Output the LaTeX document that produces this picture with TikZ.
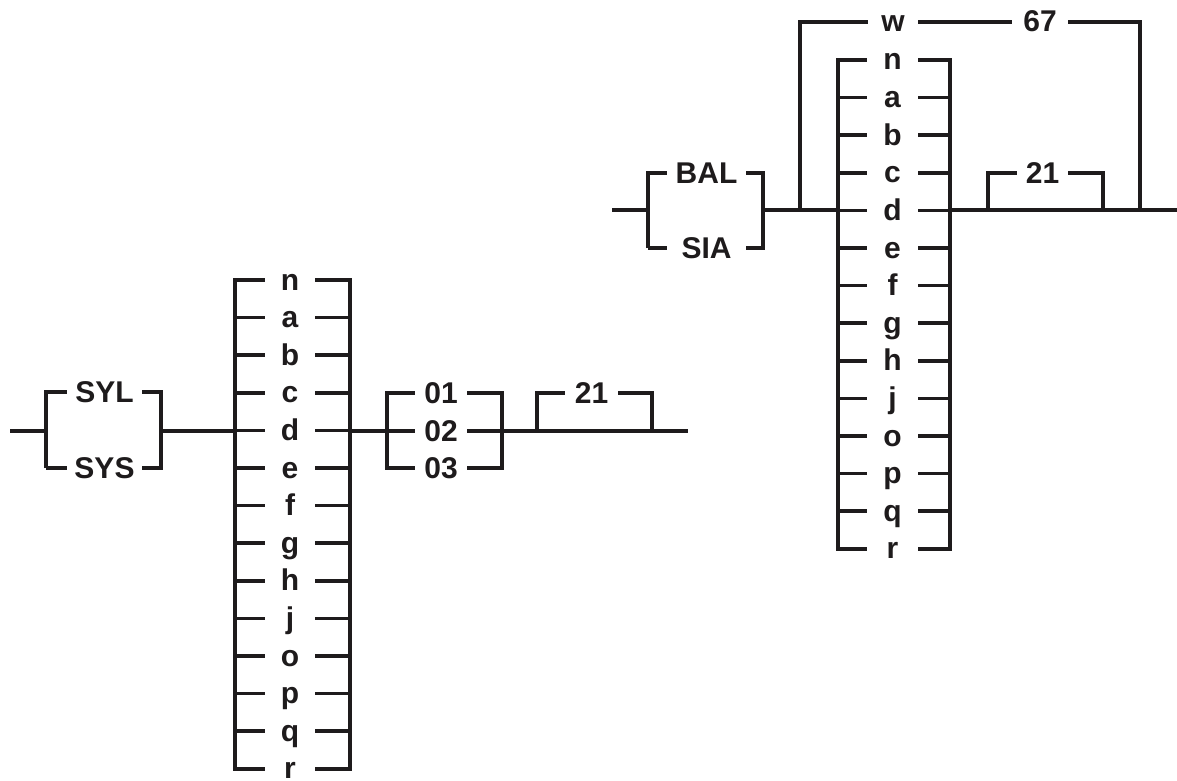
\documentclass[tikz,border=0pt]{standalone}
\usepackage{fontspec}
\setmainfont{Liberation Sans}
\definecolor{ink}{RGB}{30,27,28}
\begin{document}
\begin{tikzpicture}[x=1pt,y=-1pt,
  rail/.style={draw=ink,line width=3.6pt,line join=miter},
  lbl/.style={inner sep=0pt,text height=20pt,text depth=0pt,align=center,
    font=\fontsize{30}{30}\selectfont\bfseries,text=ink},
  w50/.style={lbl,minimum width=50pt}]
\useasboundingbox (0,0) rectangle (1177,781);
% ---------------- left diagram ----------------
\node[lbl,minimum width=75pt] (syl) at (104.5,392) {SYL};
\node[lbl,minimum width=75pt] (sys) at (104.5,468) {SYS};
\coordinate (lstart) at (10,431);
\coordinate (lbin) at (46,431);
\coordinate (lbout) at (161,431);
\draw[rail] (lstart) -- (lbin);
\draw[rail] (46,468) -- (46,392) -- (syl.west);
\draw[rail] (syl.east) -- (161,392) -- (161,468) -- (sys.east);
\draw[rail] (sys.west) -- (46,468);
\draw[rail] (lbout) -- (235,431);
\foreach \t [count=\i from 0] in {n,a,b,c,d,e,f,g,h,j,o,p,q,r}{
  \node[w50] (L\i) at (290,280+37.6*\i) {\t};
  \draw[rail] (235,280+37.6*\i) -- (L\i.west);
  \draw[rail] (L\i.east) -- (350,280+37.6*\i);
}
\draw[rail] (235,278.2) -- (235,770.8);
\draw[rail] (350,278.2) -- (350,770.8);
\draw[rail] (350,431) -- (387,431);
\foreach \t/\yy in {01/393,02/431,03/468}{
  \node[lbl,minimum width=52pt] (v\t) at (441,\yy) {\t};
  \draw[rail] (387,\yy) -- (v\t.west);
  \draw[rail] (v\t.east) -- (502,\yy);
}
\draw[rail] (387,391.2) -- (387,469.8);
\draw[rail] (502,391.2) -- (502,469.8);
\node[lbl,minimum width=53pt] (l21) at (591.5,393) {21};
\coordinate (lend) at (688,431);
\draw[rail] (502,431) -- (lend);
\draw[rail] (537,431) -- (537,393) -- (l21.west);
\draw[rail] (l21.east) -- (652,393) -- (652,431);
% ---------------- right diagram ----------------
\node[lbl,minimum width=79pt] (bal) at (706.5,173) {BAL};
\node[lbl,minimum width=79pt] (sia) at (706.5,248) {SIA};
\coordinate (rstart) at (612,210);
\draw[rail] (rstart) -- (648,210);
\draw[rail] (648,248) -- (648,173) -- (bal.west);
\draw[rail] (bal.east) -- (763,173) -- (763,248) -- (sia.east);
\draw[rail] (sia.west) -- (648,248);
\draw[rail] (763,210) -- (838,210);
\node[w50] (w) at (893,22) {w};
\node[lbl,minimum width=56pt] (r67) at (1040,22) {67};
\draw[rail] (800,210) -- (800,22) -- (w.west);
\draw[rail] (w.east) -- (r67.west);
\draw[rail] (r67.east) -- (1140,22) -- (1140,210);
\foreach \t [count=\i from 0] in {n,a,b,c,d,e,f,g,h,j,o,p,q,r}{
  \node[lbl,minimum width=51pt] (R\i) at (892.5,60+37.6*\i) {\t};
  \draw[rail] (838,60+37.6*\i) -- (R\i.west);
  \draw[rail] (R\i.east) -- (950,60+37.6*\i);
}
\draw[rail] (838,58.2) -- (838,550.8);
\draw[rail] (950,58.2) -- (950,550.8);
\node[lbl,minimum width=51pt] (r21) at (1042.5,173) {21};
\coordinate (rend) at (1177,210);
\draw[rail] (950,210) -- (rend);
\draw[rail] (988,210) -- (988,173) -- (r21.west);
\draw[rail] (r21.east) -- (1103,173) -- (1103,210);
\end{tikzpicture}
\end{document}
